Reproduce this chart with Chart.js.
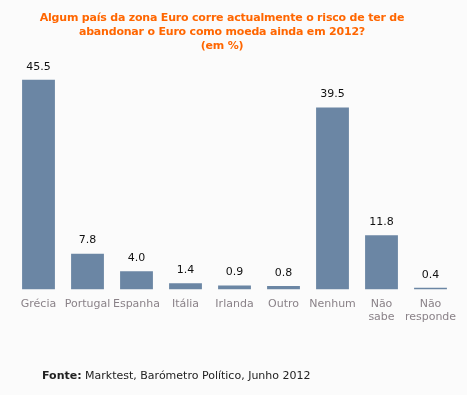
<!DOCTYPE html>
<html>
<head>
<meta charset="utf-8">
<script src="https://cdn.jsdelivr.net/npm/chart.js@4"></script>
<style>
    html, body { margin: 0; padding: 0; background: #fbfbfb; }
    #wrap { position: relative; width: 467px; height: 395px; overflow: hidden; }
    #title {
        position: absolute; left: 0; top: 11px; width: 444px;
        text-align: center; font: bold 11px "DejaVu Sans", Verdana, sans-serif;
        letter-spacing: -0.2px; line-height: 14px; color: #ff6600;
    }
    #source {
        position: absolute; left: 42px; top: 369px;
        font: 11px "DejaVu Sans", Verdana, sans-serif; color: #222;
    }
    canvas { position: absolute; left: 0; top: 0; }
</style>
</head>
<body>
<div id="wrap">
    <canvas id="riskChart" width="467" height="395"></canvas>
    <div id="title">Algum país da zona Euro corre actualmente o risco de ter de<br>abandonar o Euro como moeda ainda em 2012?<br>(em %)</div>
    <div id="source"><b>Fonte:</b> Marktest, Barómetro Político, Junho 2012</div>
</div>
<script>
// Chart data
const categories = ['Grécia', 'Portugal', 'Espanha', 'Itália', 'Irlanda', 'Outro', 'Nenhum', ['Não', 'sabe'], ['Não', 'responde']];
const percentages = [45.5, 7.8, 4.0, 1.4, 0.9, 0.8, 39.5, 11.8, 0.4];

// Value labels above each bar
const valueLabels = {
    id: 'valueLabels',
    afterDatasetsDraw(chart) {
        const ctx = chart.ctx;
        const meta = chart.getDatasetMeta(0);
        ctx.save();
        ctx.font = '11px "DejaVu Sans", Verdana, sans-serif';
        ctx.fillStyle = '#111';
        ctx.textAlign = 'center';
        ctx.textBaseline = 'middle';
        meta.data.forEach(function(bar, i) {
            ctx.fillText(percentages[i].toFixed(1), bar.x, bar.y - 13);
        });
        ctx.restore();
    }
};

document.addEventListener('DOMContentLoaded', function() {
    const ctx = document.getElementById('riskChart').getContext('2d');
    new Chart(ctx, {
        type: 'bar',
        data: {
            labels: categories,
            datasets: [{
                data: percentages,
                backgroundColor: '#6b86a4',
                categoryPercentage: 0.67,
                barPercentage: 1.0
            }]
        },
        options: {
            responsive: false,
            animation: false,
            layout: {
                padding: { left: 14, right: 12, top: 59, bottom: 63 }
            },
            scales: {
                x: {
                    grid: { display: false, drawTicks: false },
                    border: { display: false },
                    ticks: {
                        color: '#8a8288',
                        font: { family: '"DejaVu Sans", Verdana, sans-serif', size: 11 },
                        padding: 8,
                        maxRotation: 0,
                        autoSkip: false
                    }
                },
                y: {
                    display: false,
                    min: 0,
                    max: 50
                }
            },
            plugins: {
                legend: { display: false },
                tooltip: { enabled: false }
            }
        },
        plugins: [valueLabels]
    });
});
</script>
</body>
</html>
